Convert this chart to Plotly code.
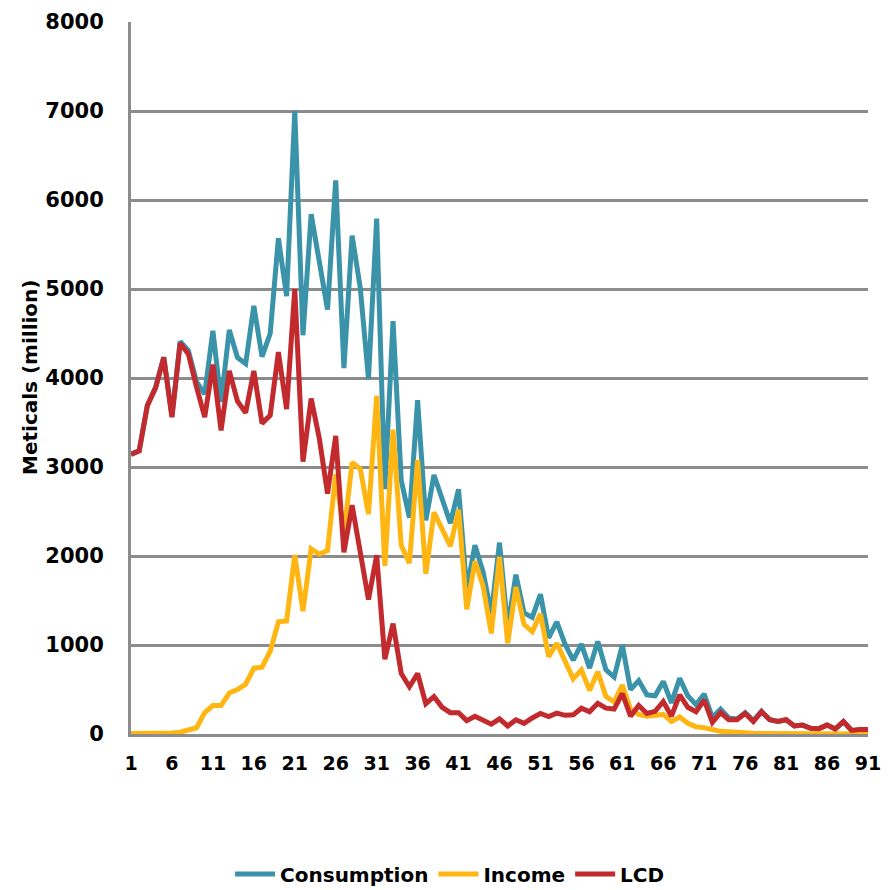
import plotly.graph_objects as go

ages = list(range(1, 92))

consumption = [3145, 3185, 3695, 3895, 4235, 3570, 4410, 4310, 3960, 3820,
               4530, 3730, 4540, 4230, 4160, 4810, 4240, 4500, 5570, 4920,
               7000, 4480, 5840, 5300, 4770, 6220, 4110, 5600, 5010, 3990,
               5790, 2750, 4640, 2850, 2430, 3750, 2400, 2910, 2650, 2370,
               2750, 1620, 2120, 1820, 1350, 2150, 1200, 1790, 1360, 1310,
               1570, 1080, 1260, 1010, 830, 1010, 740, 1040, 720, 640,
               1000, 500, 600, 440, 430, 590, 350, 625, 430, 330,
               450, 185, 280, 180, 170, 240, 150, 255, 160, 140,
               160, 90, 100, 65, 60, 100, 55, 140, 40, 50, 50]

income = [5, 5, 5, 5, 5, 10, 20, 45, 70, 240,
          320, 320, 460, 500, 560, 740, 750, 930, 1260, 1270,
          2010, 1380, 2080, 2020, 2060, 2920, 2250, 3050, 2980, 2470,
          3800, 1890, 3420, 2120, 1920, 3080, 1800, 2490, 2300, 2110,
          2520, 1400, 1940, 1660, 1130, 1990, 1020, 1650, 1230, 1150,
          1350, 870, 1020, 810, 620, 720, 490, 700, 420, 360,
          550, 280, 220, 200, 210, 220, 140, 190, 120, 80,
          70, 45, 30, 25, 15, 10, 8, 6, 5, 4,
          3, 3, 2, 2, 2, 2, 1, 1, 1, 1, 1]

lcd = [3140, 3180, 3690, 3890, 4230, 3560, 4390, 4270, 3900, 3560,
       4150, 3410, 4080, 3740, 3610, 4080, 3490, 3580, 4290, 3650,
       5000, 3060, 3770, 3320, 2700, 3350, 2040, 2570, 2040, 1510,
       2010, 840, 1240, 680, 530, 680, 340, 420, 300, 240,
       240, 150, 200, 160, 110, 170, 90, 160, 120, 180,
       230, 195, 235, 210, 215, 290, 250, 345, 290, 280,
       455, 200, 320, 230, 255, 365, 200, 440, 300, 250,
       380, 130, 240, 160, 160, 230, 140, 250, 160, 140,
       160, 90, 100, 65, 60, 100, 55, 140, 40, 50, 50]

x_ticks = list(range(1, 92, 5))
y_ticks = list(range(0, 8001, 1000))

series = [("Consumption", consumption, "#3A93A8"),
          ("Income", income, "#FFB612"),
          ("LCD", lcd, "#C22A2E")]

FONT = "DejaVu Sans"
fig = go.Figure()
for name, vals, col in series:
    fig.add_trace(go.Scatter(x=ages, y=vals, name=name, mode="lines",
                             line=dict(color=col, width=5)))

fig.update_layout(
    width=893, height=890,
    margin=dict(l=131, r=25, t=22, b=156, autoexpand=False),
    paper_bgcolor="white", plot_bgcolor="white",
    font=dict(family=FONT, size=19, color="black", weight="bold"),
    showlegend=True,
    legend=dict(orientation="h", xref="container", x=0.504, xanchor="center",
                yref="container", y=1 - 874 / 890, yanchor="middle",
                font=dict(family=FONT, size=20, color="black", weight="bold"),
                itemwidth=40, tracegroupgap=0),
    xaxis=dict(range=[1, 91], tickmode="array", tickvals=x_ticks,
               ticktext=[str(v) for v in x_ticks], showgrid=False,
               showline=True, linecolor="#8C8C8C", linewidth=3,
               ticks="", ticklabelstandoff=10, zeroline=False,
               ticklabeloverflow="allow",
               tickfont=dict(family=FONT, size=19, weight="bold")),
    yaxis=dict(range=[0, 8000], tickmode="array", tickvals=y_ticks,
               ticktext=[str(v) for v in y_ticks], showgrid=True,
               gridcolor="#8C8C8C", gridwidth=2.5,
               showline=True, linecolor="#8C8C8C", linewidth=3,
               ticks="", ticklabelstandoff=20, zeroline=False,
               ticklabeloverflow="allow",
               tickfont=dict(family=FONT, size=21, weight="bold")),
    annotations=[dict(text="Meticals (million)", xref="paper", yref="paper",
                      x=(30 - 131) / 737, y=0.5, xanchor="center", yanchor="middle",
                      textangle=-90, showarrow=False,
                      font=dict(family=FONT, size=20, weight="bold", color="black"))],
)

fig.write_html("out.html", config={"displayModeBar": False},
               post_script="document.body.style.margin='0px';")
